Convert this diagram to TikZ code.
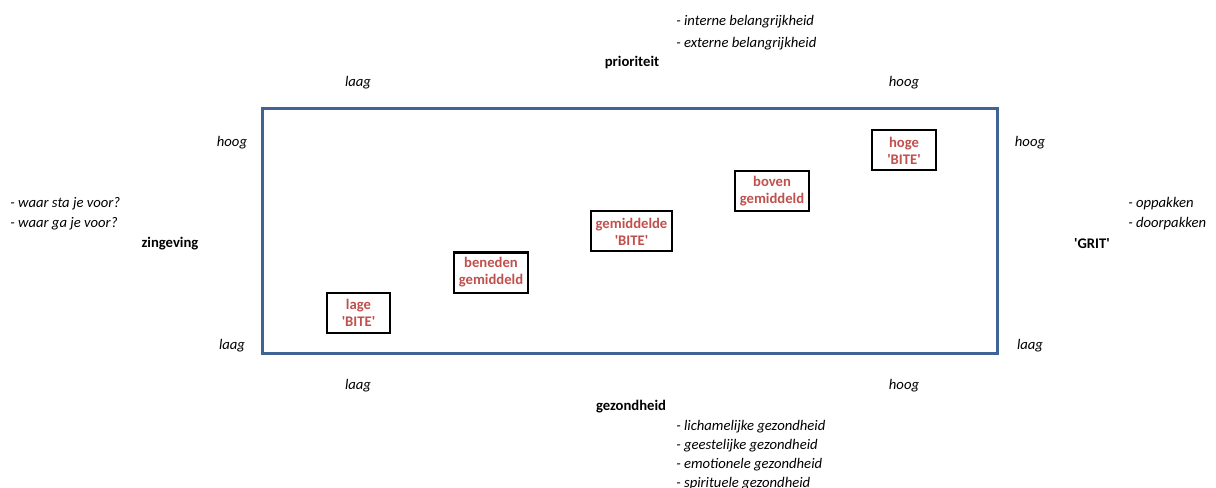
\documentclass[tikz,border=0pt]{standalone}
\usepackage{fontspec}
\setmainfont{Carlito}
\usepackage{tikz}
\usetikzlibrary{positioning}

\definecolor{frameblue}{RGB}{65,100,150}
\definecolor{bitered}{RGB}{192,80,77}

\newcommand{\sq}{\textquotesingle}

\begin{document}
\begin{tikzpicture}[x=0.75pt,y=-0.75pt,font=\fontsize{11pt}{14pt}\selectfont,
  every node/.style={inner sep=0pt},
  bitebox/.style={draw=black,line width=1.5pt,text=bitered,font=\fontsize{11pt}{12.75pt}\selectfont\bfseries,align=center,minimum height=30pt}]

\useasboundingbox (0,0) rectangle (1216,488);

\draw [frameblue,line width=2.25pt] (262.5,108.5) rectangle (997.5,353.5);

\begin{scope}[yshift=-1.5pt]
% top axis
\node[anchor=west] (int) at (676,20) {\itshape - interne belangrijkheid};

\node[below =6pt of int.south west,anchor=north west] (ext) {\itshape - externe belangrijkheid};

\node (prio) at (632,61) {\bfseries prioriteit};

\node (tlaag) at (358,81) {\itshape laag};
\node (thoog) at (904,81) {\itshape hoog};

% left axis
\node (lhoog) at (232,141) {\itshape hoog};
\node (llaag) at (232,344) {\itshape laag};

\node[anchor=west] (sta) at (10,202) {\itshape - waar sta je voor?};

\node[anchor=west] (ga) at (10,222) {\itshape - waar ga je voor?};

\node (zin) at (170,242) {\bfseries zingeving};

% right axis
\node (rhoog) at (1030,141) {\itshape hoog};
\node (rlaag) at (1030,344) {\itshape laag};

\node[anchor=west] (op) at (1128,202) {\itshape - oppakken};

\node[anchor=west] (door) at (1128,222) {\itshape - doorpakken};

\node (grit) at (1092,242) {\bfseries \sq GRIT\sq};

% bottom axis
\node (blaag) at (358,384) {\itshape laag};
\node (bhoog) at (904,384) {\itshape hoog};

\node (gez) at (631,405) {\bfseries gezondheid};

\node[anchor=west] (lich) at (676,425) {\itshape - lichamelijke gezondheid};
\node[anchor=west] (geest) at (676,444) {\itshape - geestelijke gezondheid};
\node[anchor=west] (emo) at (676,463) {\itshape - emotionele gezondheid};
\node[anchor=west] (spir) at (676,482) {\itshape - spirituele gezondheid};
\end{scope}

% BITE levels
\node[bitebox,minimum width=47.25pt] (lage) at (358.5,313) {lage\\\sq BITE\sq};

\node[bitebox,minimum width=55.5pt] (beneden) at (491,272.5) {beneden\\gemiddeld};

\node[bitebox,minimum width=60.75pt] (gem) at (631.5,231.5) {gemiddelde\\\sq BITE\sq};

\node[bitebox,minimum width=55.5pt] (boven) at (772,191.5) {boven\\gemiddeld};

\node[bitebox,minimum width=48pt] (hoge) at (904,150.5) {hoge\\\sq BITE\sq};

\end{tikzpicture}
\end{document}
